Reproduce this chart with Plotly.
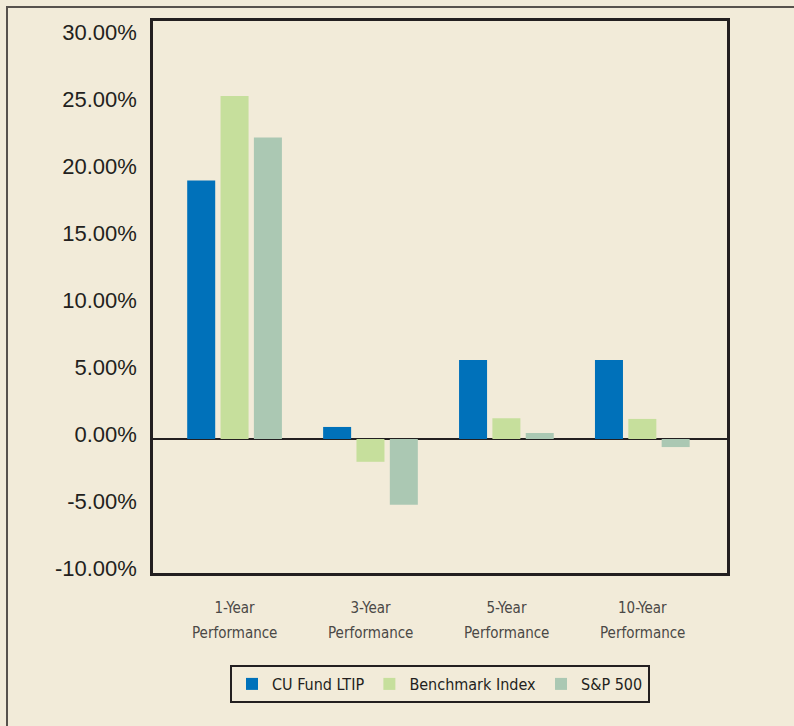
import plotly.graph_objects as go

# Annualised returns by holding period (percent)
periods = ["1-Year", "3-Year", "5-Year", "10-Year"]
period_suffix = "Performance"
cu_fund_ltip = [19.3, 0.9, 5.9, 5.9]
benchmark_index = [25.6, -1.7, 1.55, 1.5]
sp_500 = [22.5, -4.9, 0.45, -0.6]

y_ticks = [-10, -5, 0, 5, 10, 15, 20, 25, 30]
y_tick_labels = ["-10.00%", "-5.00%", "0.00%", "5.00%", "10.00%",
                 "15.00%", "20.00%", "25.00%", "30.00%"]

BG = "#F2EBD9"
INK = "#231F20"
NARROW = "DejaVu Sans Condensed, Liberation Sans Narrow, sans-serif"

series = [
    ("CU Fund LTIP", cu_fund_ltip, "#0071BA"),
    ("Benchmark Index", benchmark_index, "#C6DF9C"),
    ("S&P 500", sp_500, "#ABC8B3"),
]

fig = go.Figure()
for name, values, color in series:
    fig.add_trace(go.Bar(
        x=periods, y=values, name=name,
        marker=dict(color=color, line=dict(width=0)),
        hoverinfo="skip",
    ))

W, H = 794, 726
L, R, T, B = 153, 67, 21, 153
plot_h = H - T - B
plot_w = W - L - R
plot_bottom = T + plot_h


def paper_y(px):
    """Convert a pixel row of the page into a paper y coordinate."""
    return (plot_bottom - px) / plot_h


fig.update_layout(
    width=W, height=H,
    margin=dict(l=L, r=R, t=T, b=B, pad=0, autoexpand=False),
    paper_bgcolor=BG, plot_bgcolor=BG,
    barmode="group", bargap=0.264, bargroupgap=0.16,
    showlegend=True,
    legend=dict(
        orientation="h",
        x=0.5, xanchor="center",
        y=paper_y(665), yanchor="top",
        bgcolor=BG, bordercolor=INK, borderwidth=2,
        font=dict(family=NARROW, size=16, color=INK),
        itemclick=False, itemdoubleclick=False,
    ),
    xaxis=dict(
        type="category",
        range=[-0.600, 3.623],
        showgrid=False, zeroline=False,
        showline=True, mirror=True, linecolor=INK, linewidth=2.5,
        ticks="", ticklabelstandoff=19,
        tickfont=dict(family=NARROW, size=15, color="#4A4846"),
        fixedrange=True,
    ),
    yaxis=dict(
        range=[-10, 31.2],
        tickvals=y_ticks, ticktext=y_tick_labels,
        showgrid=False,
        zeroline=True, zerolinecolor=INK, zerolinewidth=2,
        showline=True, mirror=True, linecolor=INK, linewidth=2.5,
        ticks="", ticklabelstandoff=9, ticklabelshift=-5,
        tickfont=dict(family="Liberation Sans, Arial, sans-serif", size=22, color=INK),
        fixedrange=True,
    ),
)

# Second line of each category label
for p in periods:
    fig.add_annotation(
        x=p, xref="x",
        y=paper_y(633), yref="paper",
        text=period_suffix, showarrow=False,
        xanchor="center", yanchor="middle",
        font=dict(family=NARROW, size=15, color="#4A4846"),
    )

# Outer panel border
fig.add_shape(
    type="rect", xref="paper", yref="paper",
    x0=(7 - L) / plot_w, x1=2.0,
    y0=-2.0, y1=paper_y(7),
    line=dict(color="#57524D", width=2), fillcolor="rgba(0,0,0,0)",
    layer="below",
)

fig.write_html("out.html")
